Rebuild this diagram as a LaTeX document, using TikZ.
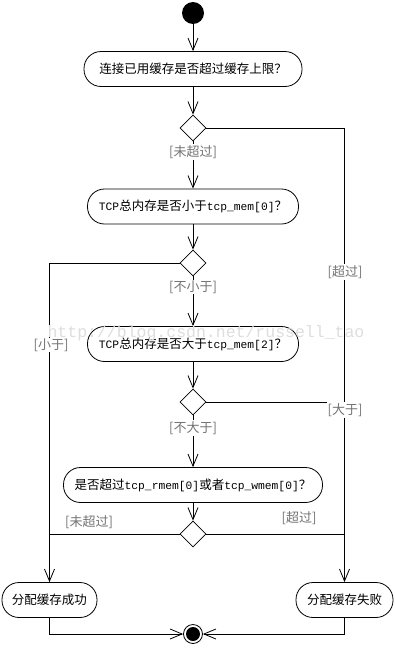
\documentclass[tikz,border=0pt]{standalone}
\usepackage{fontspec}
\newfontfamily\cjk{Noto Sans CJK SC}
\newfontfamily\monof{Liberation Mono}
\usetikzlibrary{arrows.meta,shapes.geometric}
\newcommand\latx[1]{{\monof\fontsize{11.3}{14}\selectfont #1}}
\begin{document}
\begin{tikzpicture}[x=1pt,y=-1pt,
 act/.style={draw, line width=0.8pt, rounded corners=17pt, minimum height=35pt, inner sep=0pt, font=\cjk\fontsize{12.5}{14}\selectfont},
 dec/.style={draw, diamond, line width=0.8pt, minimum width=26pt, minimum height=26pt, inner sep=0pt, fill=white},
 lbl/.style={fill=white, text=black!55, inner sep=1pt, font=\cjk\fontsize{13}{15}\selectfont},
 flow/.style={line width=0.8pt, -{Straight Barb[length=12pt,width=10pt,line width=0.8pt]}},
 conn/.style={line width=0.8pt}]
\useasboundingbox[fill=white] (0,0) rectangle (394,648);

\node[circle, fill=black, minimum size=22pt, inner sep=0pt] (start) at (193,13) {};
\node[act, minimum width=218pt] (n1) at (193,69) {连接已用缓存是否超过缓存上限？};
\node[dec] (d1) at (193,128) {};
\node[act, minimum width=211pt] (n2) at (193,206.5) {\latx{TCP}总内存是否小于\latx{tcp\_mem[0]}？};
\node[dec] (d2) at (193,263) {};
\node[act, minimum width=211pt] (n3) at (193,344) {\latx{TCP}总内存是否大于\latx{tcp\_mem[2]}？};
\node[dec] (d3) at (193,402) {};
\node[act, minimum width=259pt] (n4) at (193,485) {是否超过\latx{tcp\_rmem[0]}或者\latx{tcp\_wmem[0]}？};
\node[dec] (d4) at (193,534) {};
\node[act, minimum width=95pt] (succ) at (49.5,600) {分配缓存成功};
\node[act, minimum width=97pt] (fail) at (344.5,600) {分配缓存失败};
\node[circle, draw, line width=0.8pt, minimum size=19pt, inner sep=0pt] (final) at (193,634) {};
\node[circle, fill=black, minimum size=14pt, inner sep=0pt] (finalin) at (193,634) {};

\draw[flow] (start) -- (n1);
\draw[flow] (n1) -- (d1);
\draw[flow] (d1) -- (n2);
\draw[flow] (n2) -- (d2);
\draw[flow] (d2) -- (n3);
\draw[flow] (n3) -- (d3);
\draw[flow] (d3) -- (n4);
\draw[flow] (n4) -- (d4);
\draw[flow] (d1.east) -| (fail.north);
\draw[flow] (d2.west) -| (succ.north);
\draw[conn] (d3.east) -- (d3.east -| fail.north);
\draw[conn] (d4.east) -- (d4.east -| fail.north);
\draw[conn] (d4.west) -- (d4.west -| succ.north);
\draw[flow] (succ.south) |- (final.west);
\draw[flow] (fail.south) |- (final.east);

\node[lbl] (l1) at (193,152) {[未超过]};
\node[lbl] (l2) at (193,287) {[不小于]};
\node[lbl] (l3) at (345,272) {[超过]};
\node[lbl] (l4) at (51,345) {[小于]};
\node[lbl] (l5) at (345,410) {[大于]};
\node[lbl] (l6) at (193,428) {[不大于]};
\node[lbl, fill=none] (l7) at (89,522) {[未超过]};
\node[lbl, fill=none] (l8) at (299,518) {[超过]};

\node[text=black!13, font=\monof\fontsize{16.5}{18}\selectfont] (wm) at (206,333) {http://blog.csdn.net/russell\_tao};
\end{tikzpicture}
\end{document}
